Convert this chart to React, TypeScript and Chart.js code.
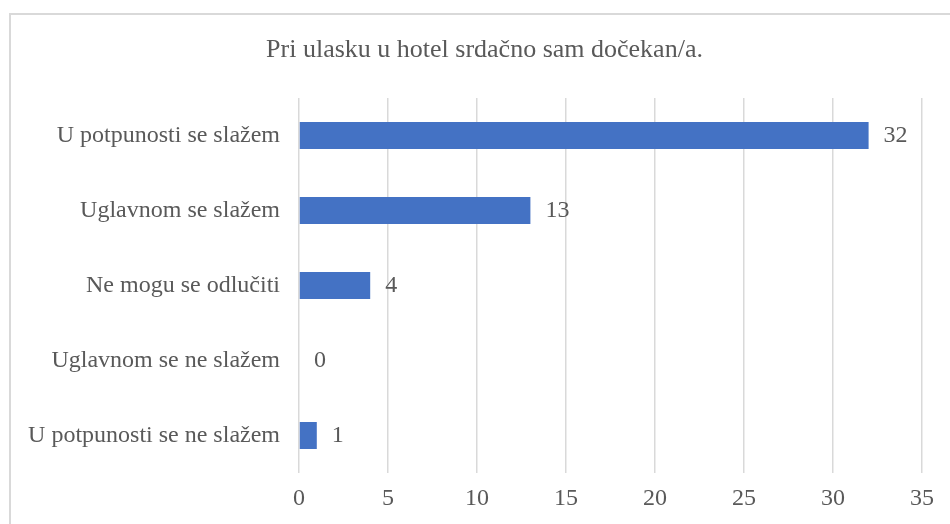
import React, { useEffect, useRef } from "react";
import { Chart, registerables } from "chart.js";

Chart.register(...registerables);

const titleText = "Pri ulasku u hotel srdačno sam dočekan/a.";
const categories = [
  "U potpunosti se slažem",
  "Uglavnom se slažem",
  "Ne mogu se odlučiti",
  "Uglavnom se ne slažem",
  "U potpunosti se ne slažem",
];
const counts = [32, 13, 4, 0, 1];
const xMin = 0;
const xMax = 35;
const xStep = 5;

const FONT = '"Liberation Serif", "Times New Roman", serif';
const TEXT = "#595959";
const GRID = "#d9d9d9";
const BAR = "#4472C4";

const valueLabels = {
  id: "valueLabels",
  afterDatasetsDraw(chart: any) {
    const ctx = chart.ctx;
    const meta = chart.getDatasetMeta(0);
    ctx.save();
    ctx.font = `24px ${FONT}`;
    ctx.fillStyle = TEXT;
    ctx.textAlign = "left";
    ctx.textBaseline = "middle";
    meta.data.forEach((bar: any, i: number) => {
      const v = chart.data.datasets[0].data[i];
      ctx.fillText(String(v), bar.x + 15, bar.y);
    });
    ctx.restore();
  },
};

const boxTitle = {
  id: "boxTitle",
  afterDraw(chart: any) {
    const ctx = chart.ctx;
    ctx.save();
    ctx.font = `26px ${FONT}`;
    ctx.fillStyle = TEXT;
    ctx.textAlign = "center";
    ctx.textBaseline = "middle";
    ctx.fillText(titleText, 484.5, 50.5);
    ctx.restore();
  },
};

export default function App() {
  const ref = useRef<HTMLCanvasElement | null>(null);
  useEffect(() => {
    if (!ref.current) return;
    const chart = new Chart(ref.current, {
      type: "bar",
      data: {
        labels: categories,
        datasets: [
          {
            data: counts,
            backgroundColor: BAR,
            barPercentage: 0.36,
            categoryPercentage: 1,
          },
        ],
      },
      options: {
        indexAxis: "y",
        responsive: false,
        animation: false,
        layout: { padding: { left: 10, right: 28, top: 98, bottom: 0 } },
        plugins: {
          legend: { display: false },
          tooltip: { enabled: false },
          title: { display: false },
        },
        scales: {
          x: {
            min: xMin,
            max: xMax,
            ticks: {
              stepSize: xStep,
              color: TEXT,
              font: { family: FONT, size: 24 },
              padding: 11,
            },
            grid: { color: GRID, lineWidth: 1.5, drawTicks: false },
            border: { display: false },
            afterFit: (s: any) => {
              s.height = 51;
            },
          },
          y: {
            ticks: {
              color: TEXT,
              font: { family: FONT, size: 24 },
              padding: 19,
            },
            grid: { display: false, drawTicks: false },
            border: { display: false },
            afterFit: (s: any) => {
              s.width = 289;
            },
          },
        },
      },
      plugins: [valueLabels, boxTitle],
    });
    return () => chart.destroy();
  }, []);

  return (
    <div
      style={{
        position: "fixed",
        left: 0,
        top: 0,
        width: 950,
        height: 524,
        overflow: "hidden",
        background: "#ffffff",
      }}
    >
      <div
        style={{
          position: "absolute",
          left: 9,
          top: 13,
          width: 1000,
          height: 600,
          borderTop: `2px solid ${GRID}`,
          borderLeft: `2px solid ${GRID}`,
          boxSizing: "border-box",
        }}
      />
      <canvas
        ref={ref}
        width={950}
        height={524}
        style={{ position: "absolute", left: 0, top: 0, width: 950, height: 524 }}
      />
    </div>
  );
}
